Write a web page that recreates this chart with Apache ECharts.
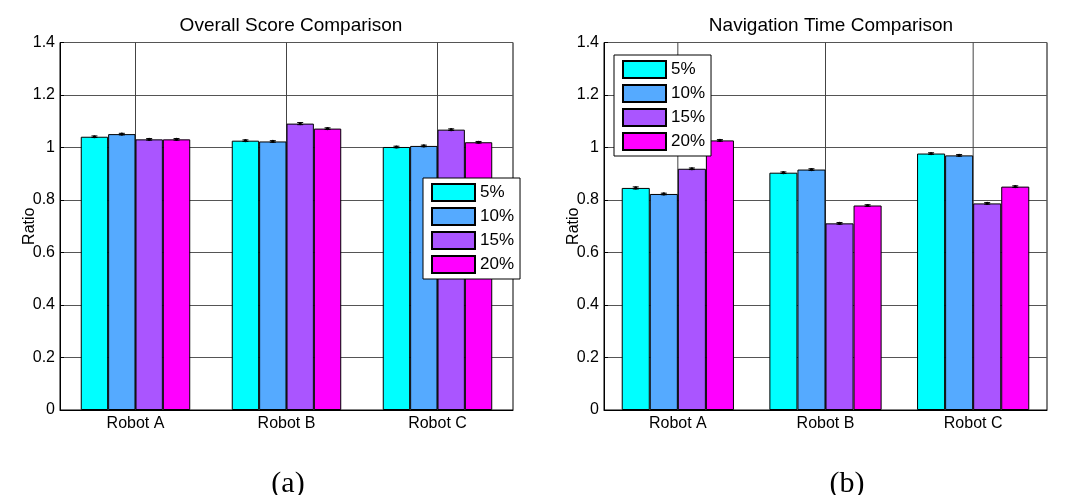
<!DOCTYPE html>
<html>
<head>
<meta charset="utf-8">
<title>Robot comparison</title>
<script src="https://cdn.jsdelivr.net/npm/echarts@6/dist/echarts.min.js"></script>
<style>
  html, body { margin: 0; padding: 0; background: #fff; }
  #chart { width: 1067px; height: 495px; }
</style>
</head>
<body>
<div id="chart"></div>
<script>
// Category and series labels
const categories = ['Robot A', 'Robot B', 'Robot C'];
const seriesNames = ['5%', '10%', '15%', '20%'];
const seriesColors = ['#00FFFF', '#55AAFF', '#AA55FF', '#FF00FF'];
const yTicks = [0, 0.2, 0.4, 0.6, 0.8, 1, 1.2, 1.4];

// (a) Overall score ratio per robot
const score5 = [1.041, 1.026, 1.002];
const score10 = [1.051, 1.023, 1.006];
const score15 = [1.031, 1.091, 1.068];
const score20 = [1.031, 1.072, 1.020];
const scoreErr5 = [0.003, 0.003, 0.003];
const scoreErr10 = [0.003, 0.003, 0.003];
const scoreErr15 = [0.003, 0.004, 0.003];
const scoreErr20 = [0.003, 0.003, 0.003];

// (b) Navigation time ratio per robot
const time5 = [0.846, 0.904, 0.977];
const time10 = [0.823, 0.916, 0.970];
const time15 = [0.919, 0.711, 0.787];
const time20 = [1.027, 0.779, 0.851];
const timeErr5 = [0.004, 0.003, 0.003];
const timeErr10 = [0.003, 0.003, 0.003];
const timeErr15 = [0.003, 0.003, 0.003];
const timeErr20 = [0.003, 0.003, 0.003];

const FONT = 'Liberation Sans, Arial, sans-serif';
const SERIF = 'Liberation Serif, Times New Roman, serif';

const scoreSets = [score5, score10, score15, score20];
const scoreErrs = [scoreErr5, scoreErr10, scoreErr15, scoreErr20];
const timeSets = [time5, time10, time15, time20];
const timeErrs = [timeErr5, timeErr10, timeErr15, timeErr20];

// Gap between bar groups, as a share of the category band
const groupGaps = [0.275, 0.24];

function barSeries(sets, axisIdx) {
  return sets.map((vals, i) => ({
    name: seriesNames[i],
    type: 'bar',
    xAxisIndex: axisIdx,
    yAxisIndex: axisIdx,
    data: vals,
    barGap: '0%',
    barCategoryGap: (groupGaps[axisIdx] * 100) + '%',
    itemStyle: { color: seriesColors[i], borderColor: '#000', borderWidth: 1 },
    z: 3,
    silent: true
  }));
}

// Vertical grid lines at each category tick, drawn behind the bars
function vGridSeries(axisIdx) {
  return {
    type: 'custom',
    xAxisIndex: axisIdx,
    yAxisIndex: axisIdx,
    data: categories.map((c, i) => [i]),
    encode: { x: 0 },
    silent: true,
    z: 1,
    renderItem: function (params, api) {
      const i = api.value(0);
      const p0 = api.coord([i, 0]);
      const p1 = api.coord([i, 1.4]);
      return {
        type: 'line',
        shape: { x1: p0[0], y1: p0[1], x2: p1[0], y2: p1[1] },
        style: { stroke: '#444', lineWidth: 1 }
      };
    }
  };
}

// Small error bars on top of each bar
function errorSeries(sets, errs, axisIdx) {
  const data = [];
  sets.forEach((vals, s) => {
    vals.forEach((v, c) => data.push([c, s, v, errs[s][c]]));
  });
  const gap = groupGaps[axisIdx];
  return {
    type: 'custom',
    xAxisIndex: axisIdx,
    yAxisIndex: axisIdx,
    data: data,
    encode: { x: 0, y: 2 },
    silent: true,
    z: 5,
    renderItem: function (params, api) {
      const c = api.value(0), s = api.value(1), v = api.value(2), e = api.value(3);
      const band = api.size([1, 0])[0];
      const bw = band * (1 - gap) / seriesNames.length;
      const dx = (s - (seriesNames.length - 1) / 2) * bw;
      const lo = api.coord([c, v - e]);
      const hi = api.coord([c, v + e]);
      const x = lo[0] + dx;
      const cap = 3;
      const st = { stroke: '#000', lineWidth: 1 };
      return {
        type: 'group',
        children: [
          { type: 'line', shape: { x1: x, y1: lo[1], x2: x, y2: hi[1] }, style: st },
          { type: 'line', shape: { x1: x - cap, y1: lo[1], x2: x + cap, y2: lo[1] }, style: st },
          { type: 'line', shape: { x1: x - cap, y1: hi[1], x2: x + cap, y2: hi[1] }, style: st },
          { type: 'circle', shape: { cx: x, cy: (lo[1] + hi[1]) / 2, r: 1.6 }, style: { fill: '#000' } }
        ]
      };
    }
  };
}

function xAxisCfg(gridIdx) {
  return {
    type: 'category',
    gridIndex: gridIdx,
    data: categories,
    axisLine: { lineStyle: { color: '#000', width: 1 } },
    axisTick: { show: false },
    axisLabel: { color: '#000', fontFamily: FONT, fontSize: 16, margin: 6 },
    splitLine: { show: false }
  };
}

function yAxisCfg(gridIdx, gap) {
  return {
    type: 'value',
    gridIndex: gridIdx,
    min: yTicks[0],
    max: yTicks[yTicks.length - 1],
    interval: 0.2,
    name: 'Ratio',
    nameLocation: 'middle',
    nameGap: gap,
    nameMoveOverlap: false,
    nameTextStyle: { color: '#000', fontFamily: FONT, fontSize: 16 },
    axisLine: { show: true, lineStyle: { color: '#000', width: 1 } },
    axisTick: { show: true, inside: true, length: 4, lineStyle: { color: '#000' } },
    axisLabel: {
      color: '#000', fontFamily: FONT, fontSize: 16, margin: 5,
      formatter: v => String(parseFloat(v.toFixed(1)))
    },
    splitLine: { show: true, lineStyle: { color: '#555', width: 1 } }
  };
}

function legendCfg(left, top) {
  return {
    data: seriesNames,
    orient: 'vertical',
    left: left,
    top: top,
    icon: 'rect',
    itemWidth: 43,
    itemHeight: 17,
    itemGap: 5,
    padding: [5, 6, 5, 8],
    backgroundColor: '#fff',
    borderColor: '#000',
    borderWidth: 1,
    borderRadius: 0,
    selectedMode: false,
    textStyle: { color: '#000', fontFamily: FONT, fontSize: 17, padding: [0, 0, 0, 0] }
  };
}

const option = {
  animation: false,
  backgroundColor: '#fff',
  title: [
    { text: 'Overall Score Comparison', left: 286, top: 11, textAlign: 'center',
      textStyle: { color: '#000', fontFamily: FONT, fontSize: 19, fontWeight: 'normal' } },
    { text: 'Navigation Time Comparison', left: 826, top: 11, textAlign: 'center',
      textStyle: { color: '#000', fontFamily: FONT, fontSize: 19, fontWeight: 'normal' } },
    { text: '(a)', left: 283, top: 464, textAlign: 'center',
      textStyle: { color: '#000', fontFamily: SERIF, fontSize: 30, fontWeight: 'normal' } },
    { text: '(b)', left: 842, top: 464, textAlign: 'center',
      textStyle: { color: '#000', fontFamily: SERIF, fontSize: 30, fontWeight: 'normal' } }
  ],
  legend: [legendCfg(423, 178), legendCfg(614, 55)],
  grid: [
    { left: 60, right: 554, top: 42.5, bottom: 85, show: true, borderColor: '#000', borderWidth: 1, backgroundColor: '#fff' },
    { left: 604, right: 20, top: 42.5, bottom: 85, show: true, borderColor: '#000', borderWidth: 1, backgroundColor: '#fff' }
  ],
  xAxis: [xAxisCfg(0), xAxisCfg(1)],
  yAxis: [yAxisCfg(0, 22), yAxisCfg(1, 22)],
  series: [].concat(
    [vGridSeries(0), vGridSeries(1)],
    barSeries(scoreSets, 0),
    barSeries(timeSets, 1),
    [errorSeries(scoreSets, scoreErrs, 0), errorSeries(timeSets, timeErrs, 1)]
  )
};

const chart = echarts.init(document.getElementById('chart'), null, { renderer: 'canvas' });
chart.setOption(option);
</script>
</body>
</html>
